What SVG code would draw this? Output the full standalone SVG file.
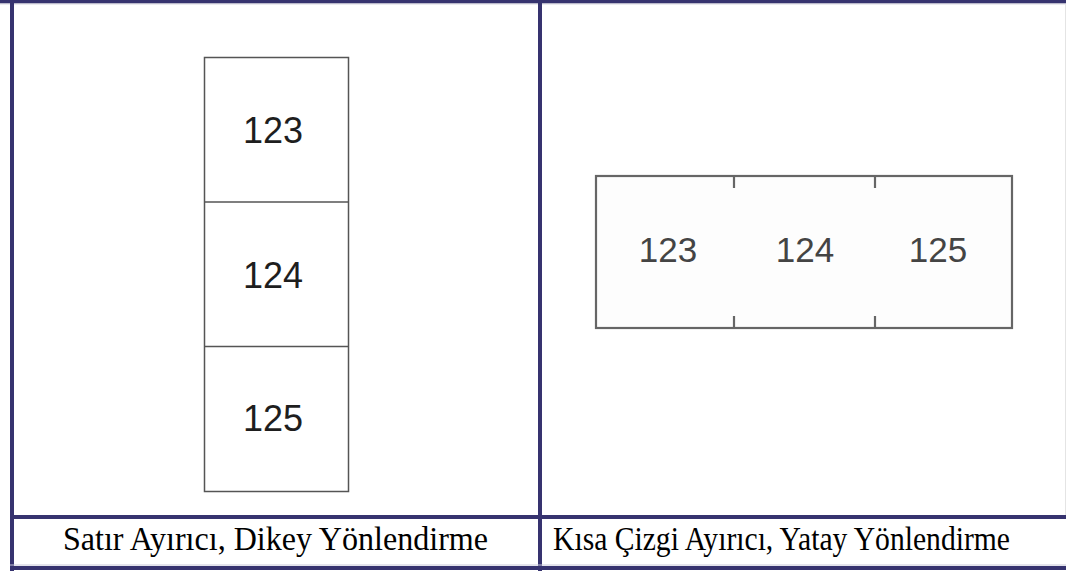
<svg xmlns="http://www.w3.org/2000/svg" width="1066" height="571" viewBox="0 0 1066 571">
<style>
.grid{stroke:#36336f;stroke-width:4;fill:none}
.box{fill:#fff;stroke:#555;stroke-width:1.5}
.hbox{fill:#fdfdfd;stroke:#666;stroke-width:2.2}
.tick{stroke:#666;stroke-width:2.2}
.num{font-family:"Liberation Sans",Arial,sans-serif;font-size:36px;fill:#1e1e1e;text-anchor:middle}
.hnum{font-family:"Liberation Sans",Arial,sans-serif;font-size:35px;fill:#444;text-anchor:middle}
.cap{font-family:"Liberation Serif","Times New Roman",serif;font-size:33px;fill:#000}
</style>
<rect x="0" y="0" width="1066" height="571" fill="#fff"/>
<g id="table">
<line class="grid" x1="0" y1="1.5" x2="1066" y2="1.5"/>
<line x1="0" y1="4" x2="1066" y2="4" stroke="#d8d8e0" stroke-width="1"/>
<line class="grid" x1="12" y1="0" x2="12" y2="571"/>
<line class="grid" x1="540" y1="0" x2="540" y2="571"/>
<line class="grid" x1="10" y1="517" x2="1066" y2="517"/>
<line x1="10" y1="565" x2="1066" y2="565" stroke="#c8c8d8" stroke-width="1"/>
<line class="grid" x1="10" y1="568" x2="1066" y2="568"/>
<line x1="1065.5" y1="4" x2="1065.5" y2="515" stroke="#e4e4e4" stroke-width="1"/>
</g>
<g id="vertical-label">
<rect class="box" x="204.5" y="57.5" width="144" height="434"/>
<line class="box" x1="204.5" y1="202" x2="348.5" y2="202"/>
<line class="box" x1="204.5" y1="346.5" x2="348.5" y2="346.5"/>
<text class="num" x="273" y="143">123</text>
<text class="num" x="273" y="288">124</text>
<text class="num" x="273" y="431">125</text>
</g>
<g id="horizontal-label">
<rect class="hbox" x="596" y="176" width="416" height="152"/>
<line class="tick" x1="734" y1="176" x2="734" y2="188"/>
<line class="tick" x1="875" y1="176" x2="875" y2="188"/>
<line class="tick" x1="734" y1="316" x2="734" y2="328"/>
<line class="tick" x1="875" y1="316" x2="875" y2="328"/>
<text class="hnum" x="668" y="262">123</text>
<text class="hnum" x="805" y="262">124</text>
<text class="hnum" x="938" y="262">125</text>
</g>
<g id="captions">
<text class="cap" x="63" y="550" textLength="425" lengthAdjust="spacingAndGlyphs">Satır Ayırıcı, Dikey Yönlendirme</text>
<text class="cap" x="553" y="550" textLength="457" lengthAdjust="spacingAndGlyphs">Kısa Çizgi Ayırıcı, Yatay Yönlendirme</text>
</g>
</svg>
